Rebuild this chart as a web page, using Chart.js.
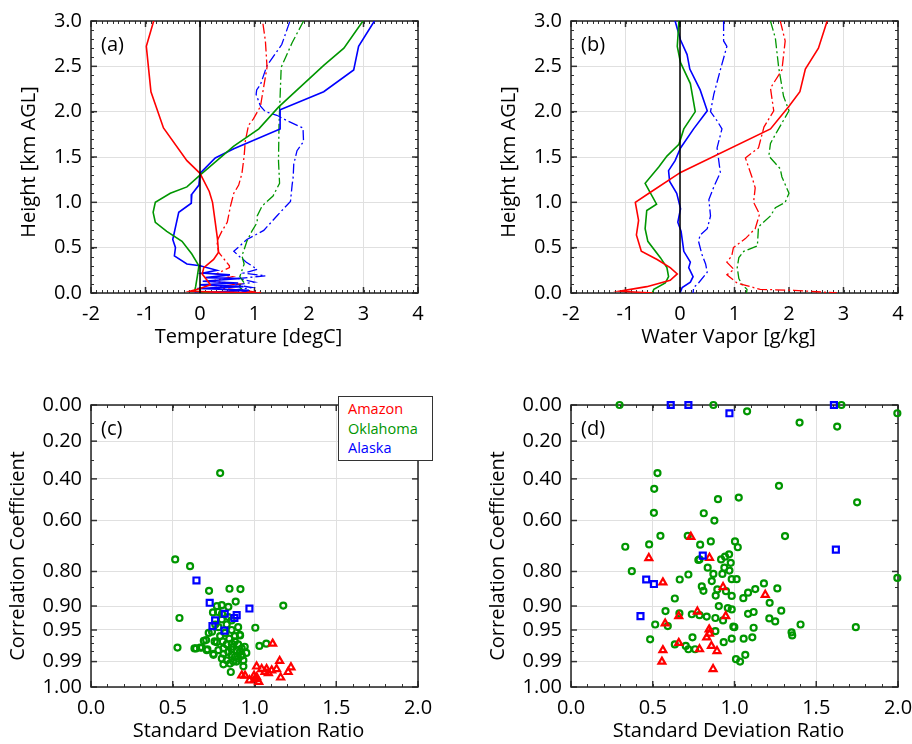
<!DOCTYPE html>
<html>
<head>
<meta charset="utf-8">
<script src="https://cdn.jsdelivr.net/npm/chart.js@4.4.1/dist/chart.umd.min.js"></script>
<style>
  html, body { margin: 0; padding: 0; background: #fff; }
  body { width: 912px; height: 744px; position: relative; overflow: hidden; font-family: "Open Sans", sans-serif; }
  canvas { position: absolute; }
  #legend {
    position: absolute; left: 338px; top: 396px; width: 95px; height: 65px;
    border: 1.5px solid #333; background: #fff; font-size: 14.5px; line-height: 19.5px;
    padding: 2px 0 0 9px; box-sizing: border-box;
  }
</style>
</head>
<body>
<canvas id="chartA" width="470" height="350" style="left:0;top:0"></canvas>
<canvas id="chartB" width="432" height="350" style="left:480px;top:0"></canvas>
<canvas id="chartC" width="470" height="394" style="left:0;top:350px"></canvas>
<canvas id="chartD" width="432" height="394" style="left:480px;top:350px"></canvas>
<div id="legend">
  <div style="color:#ff0000">Amazon</div>
  <div style="color:#009600">Oklahoma</div>
  <div style="color:#0000ff">Alaska</div>
</div>
<script>
// profiles: [value, height km]
const aRedSolid = [[-0.85,3.0],[-0.985,2.72],[-0.90,2.22],[-0.67,1.82],[-0.24,1.46],[0.0,1.32],[0.17,1.12],[0.23,1.0],[0.28,0.78],[0.32,0.60],[0.34,0.45],[0.25,0.37],[0.07,0.28],[0.04,0.21],[0.13,0.14],[0.19,0.09],[0.0,0.05],[-0.18,0.02],[0.3,0.01],[1.1,0.0]];
const aRedDash = [[1.155,2.97],[1.20,2.78],[1.23,2.49],[1.14,2.17],[1.11,2.06],[0.98,1.92],[0.89,1.85],[0.83,1.67],[0.81,1.51],[0.77,1.32],[0.71,1.19],[0.62,1.10],[0.56,0.96],[0.50,0.78],[0.40,0.68],[0.31,0.57],[0.34,0.45],[0.54,0.30],[0.54,0.28],[0.30,0.21],[0.60,0.18],[0.20,0.13],[0.70,0.10],[0.25,0.06],[0.80,0.03],[1.15,0.0]];
const aGreenSolid = [[2.99,3.0],[2.64,2.70],[2.27,2.51],[1.44,2.05],[1.08,1.81],[0.62,1.62],[0.0,1.30],[-0.24,1.17],[-0.545,1.10],[-0.82,1.0],[-0.86,0.89],[-0.82,0.78],[-0.61,0.68],[-0.33,0.57],[-0.15,0.43],[-0.02,0.30],[-0.05,0.18],[-0.08,0.07],[-0.1,0.02],[0.2,0.0]];
const aGreenDash = [[1.90,3.0],[1.69,2.76],[1.49,2.49],[1.47,2.17],[1.45,1.85],[1.44,1.46],[1.46,1.21],[1.34,1.07],[1.14,0.96],[1.05,0.85],[1.05,0.78],[0.95,0.68],[0.86,0.57],[0.81,0.48],[0.77,0.41],[0.81,0.32],[0.73,0.18],[0.80,0.12],[0.70,0.08],[0.77,0.04],[0.5,0.01],[0.9,0.0]];
const aBlueSolid = [[3.20,3.0],[2.91,2.72],[2.82,2.46],[2.27,2.22],[1.47,2.02],[1.47,1.81],[0.62,1.59],[0.28,1.49],[0.0,1.32],[-0.02,1.19],[-0.15,1.09],[-0.16,0.99],[-0.39,0.89],[-0.50,0.59],[-0.45,0.50],[-0.47,0.41],[-0.24,0.32],[0.0,0.30],[0.31,0.25],[0.05,0.22],[0.55,0.20],[0.10,0.17],[0.75,0.16],[0.05,0.13],[0.70,0.11],[0.0,0.09],[0.8,0.07],[-0.05,0.05],[0.9,0.03],[0.3,0.01],[-0.1,0.0]];
const aBlueDash = [[1.645,2.99],[1.50,2.74],[1.23,2.51],[1.11,2.30],[1.04,2.24],[1.03,2.19],[1.11,2.06],[1.20,2.0],[1.41,1.96],[1.60,1.90],[1.89,1.82],[1.90,1.67],[1.78,1.57],[1.72,1.42],[1.71,1.28],[1.69,1.19],[1.66,1.01],[1.41,0.85],[1.17,0.69],[0.86,0.59],[0.62,0.46],[0.71,0.41],[0.85,0.34],[1.05,0.26],[0.80,0.22],[1.20,0.19],[0.70,0.16],[1.0,0.12],[0.65,0.09],[0.95,0.06],[0.6,0.03],[1.1,0.0]];

const bRedSolid = [[2.70,3.0],[2.54,2.70],[2.30,2.47],[2.20,2.22],[2.0,2.06],[1.66,1.81],[0.01,1.33],[-0.57,1.10],[-0.82,1.0],[-0.76,0.80],[-0.80,0.64],[-0.71,0.46],[-0.42,0.37],[-0.18,0.28],[-0.05,0.21],[-0.18,0.14],[-0.61,0.07],[-1.10,0.02],[-0.5,0.0]];
const bRedDash = [[1.84,3.0],[1.93,2.78],[1.87,2.46],[1.66,2.26],[1.72,2.01],[1.54,1.83],[1.44,1.60],[1.20,1.49],[1.32,1.28],[1.38,1.16],[1.35,1.0],[1.46,0.87],[1.38,0.71],[1.20,0.60],[0.98,0.50],[0.95,0.41],[0.86,0.34],[0.99,0.26],[0.86,0.20],[1.05,0.11],[1.47,0.04],[2.09,0.03],[2.88,0.0]];
const bGreenSolid = [[-0.02,3.0],[-0.05,2.72],[0.01,2.54],[0.19,2.31],[0.28,2.0],[0.07,1.81],[-0.02,1.64],[-0.24,1.51],[-0.39,1.39],[-0.64,1.21],[-0.43,0.98],[-0.61,0.91],[-0.64,0.71],[-0.59,0.57],[-0.36,0.39],[-0.24,0.28],[-0.21,0.18],[-0.27,0.11],[-0.48,0.04],[-0.51,0.0]];
const bGreenDash = [[1.66,3.0],[1.75,2.81],[1.81,2.49],[1.90,2.17],[2.0,2.01],[1.78,1.78],[1.66,1.65],[1.63,1.51],[1.84,1.37],[1.87,1.28],[2.0,1.10],[1.93,1.0],[1.75,0.94],[1.66,0.85],[1.44,0.73],[1.42,0.52],[1.17,0.46],[1.08,0.39],[1.05,0.28],[1.08,0.16],[1.14,0.09],[1.23,0.04],[1.22,0.0]];
const bBlueSolid = [[-0.09,3.0],[0.01,2.79],[0.13,2.63],[0.18,2.47],[0.37,2.24],[0.50,2.01],[0.25,1.81],[0.01,1.60],[-0.09,1.46],[-0.21,1.35],[-0.19,1.23],[-0.06,1.10],[0.01,0.93],[-0.04,0.78],[0.02,0.68],[0.07,0.46],[0.19,0.34],[0.16,0.28],[0.24,0.18],[0.19,0.12],[0.04,0.06],[0.0,0.0]];
const bBlueDash = [[0.80,3.0],[0.80,2.78],[0.86,2.72],[0.74,2.46],[0.62,2.19],[0.56,2.0],[0.68,1.90],[0.77,1.81],[0.68,1.60],[0.74,1.33],[0.62,1.17],[0.53,1.03],[0.56,0.85],[0.50,0.71],[0.37,0.64],[0.34,0.57],[0.40,0.43],[0.47,0.32],[0.50,0.23],[0.34,0.11],[0.25,0.06],[0.24,0.0]];

// scatter: [std dev ratio, correlation]
const cAmazon = [[1.111,0.971],[1.154,0.9895],[1.223,0.994],[1.16,0.9986],[1.013,0.9935],[1.044,0.995],[1.074,0.995],[1.105,0.9957],[1.135,0.995],[1.206,0.9965],[1.064,0.9965],[1.085,0.997],[0.922,0.9979],[0.942,0.998],[0.997,0.998],[0.969,0.9993],[1.026,0.9996],[1.013,0.9985],[1.003,0.999]];
const cOklahoma = [[0.79,0.37],[0.515,0.758],[0.606,0.782],[0.722,0.860],[0.847,0.854],[0.914,0.855],[0.885,0.889],[1.176,0.899],[0.541,0.927],[0.529,0.976],[1.005,0.946],[1.030,0.974],[1.072,0.971],[0.932,0.9934],[0.855,0.9965],[0.633,0.977],[0.643,0.977],[0.668,0.976],[0.704,0.966],[0.712,0.978],[0.749,0.984],[0.769,0.969],
  [0.77,0.90],[0.80,0.898],[0.84,0.902],[0.746,0.915],[0.777,0.914],[0.801,0.918],[0.84,0.925],[0.86,0.932],[0.76,0.94],[0.74,0.953],[0.86,0.95],[0.88,0.96],[0.91,0.958],[0.69,0.967],[0.756,0.968],[0.806,0.968],
  [0.846,0.964],[0.861,0.971],[0.871,0.975],[0.891,0.979],[0.911,0.981],[0.840,0.981],[0.810,0.983],[0.861,0.984],[0.881,0.986],[0.901,0.9875],[0.922,0.984],[0.830,0.989],[0.800,0.9875],[0.850,0.9915],[0.871,0.990],[0.932,0.989],[0.922,0.977],[0.810,0.977],[0.779,0.979],[0.749,0.983],[0.708,0.979],[0.678,0.976],
  [0.86,0.978],[0.90,0.972],[0.83,0.972],[0.88,0.968],[0.92,0.985],[0.79,0.96],[0.82,0.955],[0.94,0.975],[0.89,0.99],[0.81,0.992],[0.95,0.982],[0.78,0.945],[0.83,0.94],[0.90,0.945],[0.72,0.955],[0.80,0.93],[0.912,0.959]];
const cAlaska = [[0.645,0.829],[0.726,0.892],[0.969,0.906],[0.818,0.918],[0.891,0.921],[0.877,0.927],[0.759,0.932],[0.743,0.943],[0.816,0.951]];

const dAmazon = [[0.733,0.670],[0.476,0.753],[0.847,0.752],[0.562,0.835],[0.930,0.849],[1.188,0.871],[0.773,0.913],[0.946,0.923],[0.659,0.923],[0.576,0.938],[0.845,0.949],[0.847,0.956],[0.830,0.962],[0.659,0.970],[0.859,0.974],[0.786,0.978],[0.893,0.980],[0.562,0.979],[0.556,0.990],[0.869,0.995]];
const dOklahoma = [[0.297,0],[0.871,0],[1.654,0],[1.077,0.035],[1.996,0.046],[1.398,0.098],[1.628,0.120],[0.529,0.370],[0.509,0.450],[1.272,0.435],[0.899,0.501],[1.026,0.493],[1.750,0.516],[0.507,0.565],[0.812,0.567],[0.877,0.600],[0.547,0.666],[0.714,0.666],[1.309,0.667],[0.332,0.710],[0.478,0.701],[0.790,0.702],[0.855,0.689],[1.003,0.689],[1.02,0.712],[0.967,0.739],[0.942,0.748],[0.918,0.758],[0.786,0.758],[0.779,0.76],[0.977,0.770],[0.938,0.787],[0.836,0.787],[0.969,0.797],[0.372,0.799],[0.871,0.808],[0.926,0.808],[0.718,0.81],[0.983,0.825],[1.013,0.825],[0.665,0.826],[0.861,0.831],[1.180,0.838],[0.80,0.847],[0.81,0.860],[0.895,0.856],[0.948,0.861],[1.127,0.855],[1.262,0.853],[1.083,0.865],[0.885,0.873],[0.983,0.874],[1.054,0.880],[0.635,0.881],[1.215,0.892],[0.904,0.900],[0.959,0.905],[0.983,0.908],[1.286,0.911],[1.117,0.914],[1.083,0.918],[0.578,0.912],[0.739,0.919],[0.786,0.921],[0.830,0.924],[0.883,0.927],[0.663,0.917],[0.930,0.932],[1.213,0.928],[1.249,0.934],[0.515,0.940],[0.592,0.943],[1.404,0.940],[0.993,0.944],[0.999,0.945],[1.117,0.946],[1.742,0.945],[0.883,0.952],[1.349,0.954],[1.353,0.959],[0.743,0.962],[0.484,0.965],[0.983,0.964],[1.056,0.964],[1.109,0.962],[0.934,0.969],[0.635,0.972],[0.702,0.974],[0.718,0.978],[0.759,0.978],[1.066,0.984],[1.009,0.988],[1.034,0.990],[1.996,0.821]];
const dAlaska = [[0.610,0],[0.718,0],[0.969,0.046],[1.608,0],[1.620,0.721],[0.806,0.744],[0.460,0.826],[0.507,0.840],[0.425,0.923]];

const corrTicks = [0, 0.2, 0.4, 0.6, 0.8, 0.9, 0.95, 0.99, 1.0];
const corrMinor = [0.1, 0.3, 0.5, 0.7, 0.85, 0.96, 0.97, 0.98];

const RED = "#ff0000";
const GREEN = "#009600";
const BLUE = "#0000ff";
const FONT = "'Open Sans', sans-serif";

Chart.defaults.font.family = FONT;
Chart.defaults.color = "#000";

const range = (a, b, s) => {
  const out = [];
  for (let v = a; v <= b + 1e-9; v += s) out.push(+v.toFixed(4));
  return out;
};

// frame, inward minor ticks, axis titles and panel letter
const framePlugin = {
  id: "frame",
  beforeDatasetsDraw(chart, args, opts) {
    const { ctx, chartArea: ca, scales } = chart;
    ctx.save();
    ctx.strokeStyle = "#333";
    ctx.lineWidth = 1;
    const xs = scales.x, ys = scales.y;
    const tick = (x1, y1, x2, y2) => {
      ctx.beginPath();
      ctx.moveTo(x1, y1);
      ctx.lineTo(x2, y2);
      ctx.stroke();
    };
    opts.xMinor.forEach((v) => {
      const px = Math.round(xs.getPixelForValue(v)) + 0.5;
      tick(px, ca.bottom, px, ca.bottom - 3);
      tick(px, ca.top, px, ca.top + 3);
    });
    opts.yMinor.forEach((v) => {
      const py = Math.round(ys.getPixelForValue(v)) + 0.5;
      tick(ca.left, py, ca.left + 3, py);
      tick(ca.right, py, ca.right - 3, py);
    });
    ctx.lineWidth = 1.5;
    xs.ticks.forEach((t) => {
      const px = xs.getPixelForValue(t.value);
      tick(px, ca.bottom, px, ca.bottom - 6);
      tick(px, ca.top, px, ca.top + 6);
    });
    ys.ticks.forEach((t) => {
      const py = ys.getPixelForValue(t.value);
      tick(ca.left, py, ca.left + 6, py);
      tick(ca.right, py, ca.right - 6, py);
    });
    ctx.strokeStyle = "#222";
    ctx.lineWidth = 1.5;
    ctx.strokeRect(ca.left, ca.top, ca.right - ca.left, ca.bottom - ca.top);
    ctx.restore();
  },
  afterDraw(chart, args, opts) {
    const { ctx, chartArea: ca } = chart;
    const midX = (ca.left + ca.right) / 2;
    const midY = (ca.top + ca.bottom) / 2;
    ctx.save();
    ctx.font = "20px " + FONT;
    ctx.fillStyle = "#000";
    ctx.textBaseline = "middle";
    ctx.fillText(opts.label, ca.left + 10, ca.top + 24);
    ctx.textAlign = "center";
    ctx.fillText(opts.xTitle, midX - 6, ca.bottom + 44);
    ctx.translate(opts.yTitleX, midY + opts.yTitleShift);
    ctx.rotate(-Math.PI / 2);
    ctx.fillText(opts.yTitle, 0, 0);
    ctx.restore();
  },
};

const fixY = (s) => { s.width = 91; };
const fixX = (s) => { s.height = 57; s.paddingLeft = 0; s.paddingRight = 0; };

const lineSet = (pts, color, dashed) => ({
  data: pts.map((p) => ({ x: p[0], y: p[1] })),
  borderColor: color,
  borderWidth: dashed ? 1.3 : 1.6,
  borderDash: dashed ? [10, 3, 2, 3] : [],
  pointRadius: 0,
  tension: 0,
  fill: false,
});

const profileChart = (id, padRight, label, xTitle, series) =>
  new Chart(document.getElementById(id), {
    type: "line",
    data: {
      datasets: [
        { data: [{ x: 0, y: 0 }, { x: 0, y: 3 }], borderColor: "#000", borderWidth: 1.5, pointRadius: 0 },
        ...series.map((s) => lineSet(s[0], s[1], s[2])),
      ],
    },
    options: {
      responsive: false,
      animation: false,
      layout: { padding: { top: 12, right: padRight, left: 0, bottom: 0 } },
      scales: {
        x: {
          type: "linear", min: -2, max: 4,
          ticks: { stepSize: 1, font: { size: 20 }, padding: 9, color: "#000" },
          grid: { color: "#e0e0e0", drawTicks: false },
          border: { display: false },
          afterFit: fixX,
        },
        y: {
          type: "linear", min: 0, max: 3,
          ticks: { stepSize: 0.5, font: { size: 20 }, padding: 9, color: "#000", callback: (v) => v.toFixed(1) },
          grid: { color: "#e0e0e0", drawTicks: false },
          border: { display: false },
          afterFit: fixY,
        },
      },
      plugins: {
        legend: { display: false },
        tooltip: { enabled: false },
        frame: {
          label, xTitle, yTitle: "Height [km AGL]", yTitleX: 29, yTitleShift: 5,
          xMinor: range(-2, 4, 0.1), yMinor: range(0, 3, 0.1),
        },
      },
    },
    plugins: [framePlugin],
  });

const pointSet = (pts, color, style, radius) => ({
  data: pts.map((p) => ({ x: p[0], y: Math.acos(p[1]) })),
  borderColor: color,
  backgroundColor: "rgba(255,255,255,0)",
  pointStyle: style,
  pointRadius: radius,
  borderWidth: 2.2,
  clip: false,
});

const taylorChart = (id, padRight, label, alaska, amazon, oklahoma) =>
  new Chart(document.getElementById(id), {
    type: "scatter",
    data: {
      datasets: [
        pointSet(alaska, BLUE, "rect", 4.2),
        pointSet(amazon, RED, "triangle", 4),
        pointSet(oklahoma, GREEN, "circle", 3),
      ],
    },
    options: {
      responsive: false,
      animation: false,
      layout: { padding: { top: 55, right: padRight, left: 0, bottom: 0 } },
      scales: {
        x: {
          type: "linear", min: 0, max: 2,
          ticks: { stepSize: 0.5, font: { size: 20 }, padding: 9, color: "#000", callback: (v) => v.toFixed(1) },
          grid: { color: "#e0e0e0", drawTicks: false },
          border: { display: false },
          afterFit: fixX,
        },
        y: {
          type: "linear", min: 0, max: Math.PI / 2,
          afterBuildTicks: (s) => { s.ticks = corrTicks.map((r) => ({ value: Math.acos(r) })); },
          ticks: { font: { size: 20 }, padding: 9, color: "#000", callback: (v) => Math.abs(Math.cos(v)).toFixed(2) },
          grid: { color: "#e0e0e0", drawTicks: false },
          border: { display: false },
          afterFit: fixY,
        },
      },
      plugins: {
        legend: { display: false },
        tooltip: { enabled: false },
        frame: {
          label, xTitle: "Standard Deviation Ratio", yTitle: "Correlation Coefficient", yTitleX: 18, yTitleShift: 10,
          xMinor: range(0, 2, 0.1), yMinor: corrMinor.map((r) => Math.acos(r)),
        },
      },
    },
    plugins: [framePlugin],
  });

profileChart("chartA", 52, "(a)", "Temperature [degC]", [
  [aRedSolid, RED, false], [aGreenSolid, GREEN, false], [aBlueSolid, BLUE, false],
  [aRedDash, RED, true], [aGreenDash, GREEN, true], [aBlueDash, BLUE, true],
]);
profileChart("chartB", 14, "(b)", "Water Vapor [g/kg]", [
  [bRedSolid, RED, false], [bGreenSolid, GREEN, false], [bBlueSolid, BLUE, false],
  [bRedDash, RED, true], [bGreenDash, GREEN, true], [bBlueDash, BLUE, true],
]);
taylorChart("chartC", 52, "(c)", cAlaska, cAmazon, cOklahoma);
taylorChart("chartD", 14, "(d)", dAlaska, dAmazon, dOklahoma);
</script>
</body>
</html>
